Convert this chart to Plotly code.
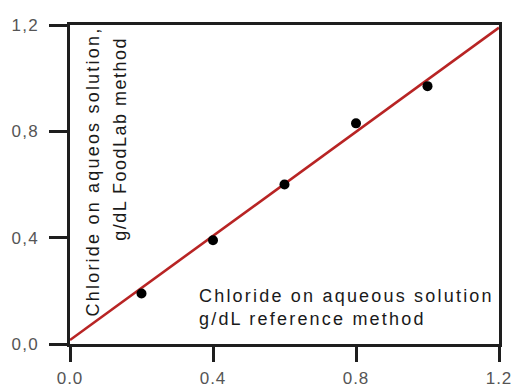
import plotly.graph_objects as go

# Chloride in aqueous solution (g/dL): reference method vs FoodLab method
reference_g_dl = [0.2, 0.4, 0.6, 0.8, 1.0]
foodlab_g_dl = [0.19, 0.39, 0.60, 0.83, 0.97]

# Fitted calibration line endpoints
fit_x = [0.0, 1.2]
fit_y = [0.015, 1.19]

x_tick_vals = [0.0, 0.4, 0.8, 1.2]
x_tick_text = ["0.0", "0.4", "0.8", "1.2"]
y_tick_vals = [0.0, 0.4, 0.8, 1.2]
y_tick_text = ["0,0", "0,4", "0,8", "1,2"]

FONT = "Liberation Sans, Arial, sans-serif"
AXIS_COLOR = "#1e1e1e"


def spaced(text, px):
    return f'<span style="letter-spacing:{px}px">{text}</span>'


fig = go.Figure()

fig.add_trace(go.Scatter(
    x=fit_x, y=fit_y, mode="lines",
    line=dict(color="#b82424", width=2.6),
    hoverinfo="skip", showlegend=False,
))

fig.add_trace(go.Scatter(
    x=reference_g_dl, y=foodlab_g_dl, mode="markers",
    marker=dict(color="black", size=10),
    showlegend=False,
))

axis_common = dict(
    showgrid=False, zeroline=False, automargin=False,
    showline=True, linecolor=AXIS_COLOR, linewidth=2.5, mirror=True,
    ticks="outside", tickcolor=AXIS_COLOR, tickwidth=2.5,
    tickfont=dict(family=FONT, size=17, color="#555555"),
)

fig.update_xaxes(
    range=[0, 1.2], tickvals=x_tick_vals,
    ticktext=[spaced(t, 1) for t in x_tick_text],
    ticklen=15, ticklabelstandoff=2, **axis_common,
)
fig.update_yaxes(
    range=[0, 1.2], tickvals=y_tick_vals,
    ticktext=[spaced(t, 1.2) for t in y_tick_text],
    ticklen=18, ticklabelstandoff=7, **axis_common,
)

text_font = dict(family=FONT, size=18, color="#1a1a1a")

# Vertical axis description (inside the plot)
fig.add_annotation(
    x=0.067, y=0.649, xref="x", yref="y",
    text=spaced("Chloride on aqueos solution,", 2.2),
    textangle=-90, showarrow=False, font=text_font,
    xanchor="center", yanchor="middle",
)
fig.add_annotation(
    x=0.140, y=0.772, xref="x", yref="y",
    text=spaced("g/dL FoodLab method", 1.5),
    textangle=-90, showarrow=False, font=text_font,
    xanchor="center", yanchor="middle",
)

# Horizontal axis description (inside the plot)
fig.add_annotation(
    x=0.355, y=0.181, xref="x", yref="y",
    text=spaced("Chloride on aqueous solution", 2.2),
    showarrow=False, font=text_font,
    xanchor="left", yanchor="middle",
)
fig.add_annotation(
    x=0.355, y=0.095, xref="x", yref="y",
    text=spaced("g/dL reference method", 2.2),
    showarrow=False, font=text_font,
    xanchor="left", yanchor="middle",
)

fig.update_layout(
    width=517, height=388,
    margin=dict(l=70, r=18, t=25, b=44),
    paper_bgcolor="white", plot_bgcolor="white",
    showlegend=False,
)

fig.write_html("out.html")
